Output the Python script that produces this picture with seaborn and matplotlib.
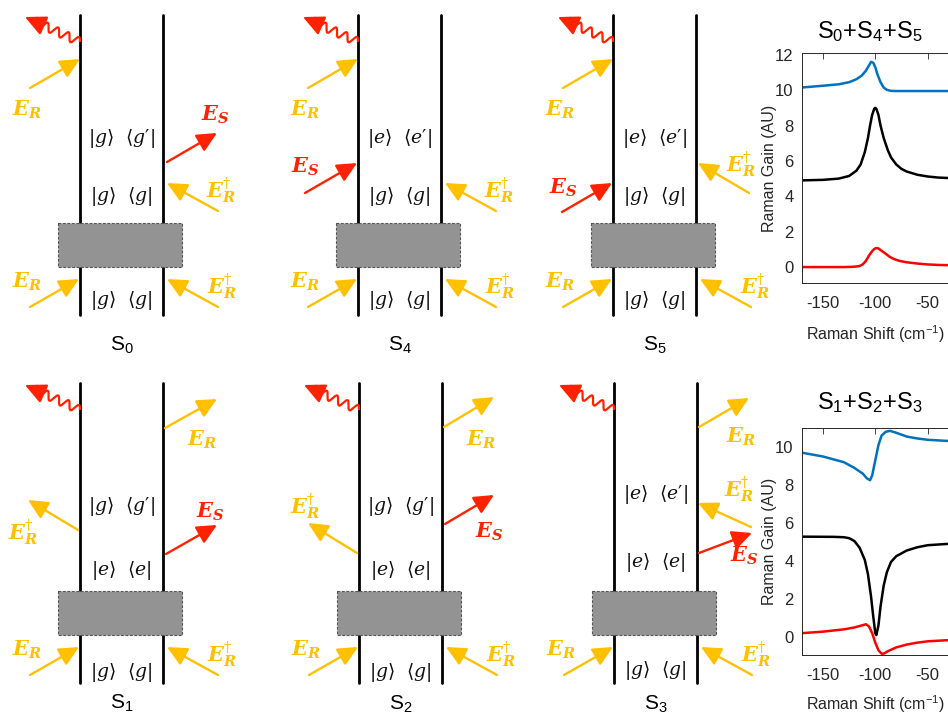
import numpy as np
import pandas as pd
import matplotlib
matplotlib.use('Agg')
import matplotlib.pyplot as plt
import seaborn as sns
from matplotlib.patches import Rectangle

# ---------------- data ----------------
# Top chart: S0+S4+S5
top_blue_x = [-170, -150, -135, -125, -118, -113, -109, -106, -104, -102, -100, -98, -95, -92, -89, -85, -80, -70, -50, -25]
top_blue_y = [10.15, 10.25, 10.33, 10.45, 10.62, 10.82, 11.1, 11.4, 11.6, 11.55, 11.3, 10.9, 10.45, 10.15, 10.02, 9.96, 9.95, 9.95, 9.95, 9.95]
top_black_x = [-170, -150, -135, -125, -118, -114, -110, -107, -105, -103, -101, -100, -99, -97, -95, -92, -88, -85, -80, -75, -70, -60, -50, -40, -25]
top_black_y = [4.9, 4.93, 5.0, 5.15, 5.45, 5.8, 6.5, 7.3, 8.0, 8.6, 8.95, 9.0, 8.95, 8.6, 8.0, 7.3, 6.6, 6.2, 5.8, 5.55, 5.4, 5.22, 5.12, 5.06, 5.02]
top_red_x = [-170, -150, -130, -120, -115, -112, -109, -106, -103, -101, -99, -97, -94, -90, -86, -82, -77, -70, -60, -50, -40, -25]
top_red_y = [0.0, 0.0, 0.0, 0.02, 0.06, 0.15, 0.35, 0.65, 0.9, 1.02, 1.08, 1.05, 0.92, 0.75, 0.57, 0.45, 0.35, 0.27, 0.2, 0.15, 0.12, 0.1]

# Bottom chart: S1+S2+S3
bot_blue_x = [-170, -150, -130, -120, -112, -108, -105, -103, -100, -97, -94, -90, -86, -80, -70, -60, -50, -25]
bot_blue_y = [9.7, 9.5, 9.2, 8.9, 8.6, 8.35, 8.25, 8.5, 9.3, 10.1, 10.6, 10.8, 10.85, 10.75, 10.55, 10.45, 10.38, 10.3]
bot_black_x = [-170, -140, -130, -125, -120, -115, -110, -107, -104, -102, -100, -99, -97, -95, -92, -89, -85, -80, -70, -60, -50, -25]
bot_black_y = [5.28, 5.27, 5.25, 5.2, 5.05, 4.7, 4.05, 3.3, 2.1, 1.1, 0.2, 0.1, 0.6, 1.6, 2.7, 3.4, 3.95, 4.25, 4.55, 4.72, 4.83, 4.92]
bot_red_x = [-170, -150, -130, -120, -112, -109, -106, -103, -100, -97, -94, -92, -88, -80, -70, -60, -50, -25]
bot_red_y = [0.2, 0.28, 0.4, 0.5, 0.62, 0.67, 0.55, 0.2, -0.3, -0.7, -0.88, -0.88, -0.75, -0.55, -0.4, -0.3, -0.23, -0.15]

x_ticks = [-150, -100, -50]
top_y_ticks = [0, 2, 4, 6, 8, 10, 12]
bot_y_ticks = [0, 2, 4, 6, 8, 10]
top_title = r'S$_\mathsf{0}$+S$_\mathsf{4}$+S$_\mathsf{5}$'
bot_title = r'S$_\mathsf{1}$+S$_\mathsf{2}$+S$_\mathsf{3}$'

# ---------------- style ----------------
sns.set_theme(style='white')
plt.rcParams['font.family'] = ['Liberation Sans', 'DejaVu Sans']
plt.rcParams['mathtext.fontset'] = 'custom'
plt.rcParams['mathtext.rm'] = 'DejaVu Serif'
plt.rcParams['mathtext.it'] = 'DejaVu Serif:italic'
plt.rcParams['mathtext.bf'] = 'DejaVu Serif:italic:bold'
plt.rcParams['mathtext.sf'] = 'Liberation Sans'
plt.rcParams['axes.unicode_minus'] = False

W, H = 948, 717
fig = plt.figure(figsize=(W / 100, H / 100), dpi=100)

YEL = '#FFC000'
RED = '#FF2200'
BLUE = '#0072BD'

# ---------------- diagram overlay (pixel coordinates) ----------------
ov = fig.add_axes([0, 0, 1, 1])
ov.set_xlim(0, W)
ov.set_ylim(H, 0)
ov.axis('off')


def arrow(p0, p1, color, lw=1.7, ms=16):
    ov.annotate('', xy=p1, xytext=p0,
                arrowprops=dict(arrowstyle='-|>,head_length=0.75,head_width=0.36',
                                color=color, lw=lw, shrinkA=0, shrinkB=0,
                                mutation_scale=ms))


def wavy(L, T):
    p0 = np.array([L, T + 27.0])
    p1 = np.array([L - 55.0, T + 2.0])
    d = p1 - p0
    length = np.hypot(*d)
    u = d / length
    n = np.array([-u[1], u[0]])
    s = np.linspace(0, length - 10, 240)
    w = 4.2 * np.sin(2 * np.pi * s / 11.5)
    pts = p0[None, :] + s[:, None] * u[None, :] + w[:, None] * n[None, :]
    ov.plot(pts[:, 0], pts[:, 1], color=RED, lw=1.6, solid_capstyle='butt')
    arrow(p0 + (length - 12) * u, p1, RED, lw=1.6, ms=17)


def lab(x, y, kind, color):
    if kind == 'ER':
        s = r'$\mathbf{E}_{\mathbf{R}}$'
    elif kind == 'ERd':
        s = r'$\mathbf{E}_{\mathbf{R}}^{\dagger}$'
    else:
        s = r'$\mathbf{E}_{\mathbf{S}}$'
    ov.text(x, y, s, color=color, fontsize=15, ha='center', va='center')


def ket(x, y, a, b, prime):
    p = r"{\prime}" if prime else ''
    s = r'$|%s\rangle\ \ \langle %s%s|$' % (a, b, p)
    ov.text(x, y, s, fontsize=13.5, ha='center', va='center', color='#111111')


def panel(L, T, name, kets, items, name_dy):
    R = L + 83
    C = (L + R) / 2
    ov.plot([L, L], [T, T + 300], color='black', lw=2.0, zorder=2)
    ov.plot([R, R], [T, T + 300], color='black', lw=2.0, zorder=2)
    ov.add_patch(Rectangle((L - 22, T + 208), R + 19 - (L - 22), 44,
                           facecolor='#939393', edgecolor='#555555',
                           lw=0.8, ls=(0, (2.5, 1.5)), zorder=3))
    wavy(L, T)
    # common bottom arrows
    arrow((L - 50, T + 292), (L - 1, T + 264), YEL)
    lab(L - 53, T + 267, 'ER', YEL)
    arrow((R + 55, T + 292), (R + 4, T + 264), YEL)
    lab(R + 59, T + 272, 'ERd', YEL)
    for (y, a, b, pr) in kets:
        ket(C, T + y, a, b, pr)
    for (side0, dx0, dy0, side1, dx1, dy1, lside, ldx, ldy, kind, color) in items:
        b0 = L if side0 == 'L' else R
        b1 = L if side1 == 'L' else R
        bl = L if lside == 'L' else R
        arrow((b0 + dx0, T + dy0), (b1 + dx1, T + dy1), color)
        lab(bl + ldx, T + ldy, kind, color)
    ov.text(C, T + name_dy, name, fontsize=15, ha='center', va='center', color='black')


top_kets_g = [(123, 'g', 'g', True), (182, 'g', 'g', False), (285, 'g', 'g', False)]
top_kets_e = [(123, 'e', 'e', True), (182, 'g', 'g', False), (285, 'g', 'g', False)]
ER_top = ('L', -50, 73, 'L', 0, 44, 'L', -53, 95, 'ER', YEL)

panel(80, 15, r'S$_\mathsf{0}$', top_kets_g, [
    ER_top,
    ('R', 4, 147, 'R', 54, 118, 'R', 52, 100, 'ES', RED),
    ('R', 55, 196, 'R', 4, 168, 'R', 58, 176, 'ERd', YEL),
], 330)
panel(358, 15, r'S$_\mathsf{4}$', top_kets_e, [
    ER_top,
    ('L', -53, 178, 'L', -1, 148, 'L', -53, 152, 'ES', RED),
    ('R', 55, 196, 'R', 4, 168, 'R', 58, 176, 'ERd', YEL),
], 330)
panel(613, 15, r'S$_\mathsf{5}$', top_kets_e, [
    ER_top,
    ('L', -51, 197, 'L', -1, 168, 'L', -50, 173, 'ES', RED),
    ('R', 53, 178, 'R', 2, 148, 'R', 45, 150, 'ERd', YEL),
], 330)

bot_kets_g = [(124, 'g', 'g', True), (188, 'e', 'e', False), (289, 'g', 'g', False)]
bot_kets_e = [(112, 'e', 'e', True), (180, 'e', 'e', False), (287, 'g', 'g', False)]
panel(80, 383, r'S$_\mathsf{1}$', bot_kets_g, [
    ('R', 2, 45, 'R', 54, 16, 'R', 39, 57, 'ER', YEL),
    ('L', -2, 147, 'L', -52, 117, 'L', -57, 150, 'ERd', YEL),
    ('R', 3, 171, 'R', 54, 142, 'R', 47, 129, 'ES', RED),
], 320)
panel(359, 383, r'S$_\mathsf{2}$', bot_kets_g, [
    ('R', 2, 44, 'R', 52, 14, 'R', 39, 57, 'ER', YEL),
    ('L', -2, 170, 'L', -51, 140, 'L', -54, 124, 'ERd', YEL),
    ('R', 3, 141, 'R', 52, 112, 'R', 47, 149, 'ES', RED),
], 321)
panel(614, 383, r'S$_\mathsf{3}$', bot_kets_e, [
    ('R', 2, 44, 'R', 52, 15, 'R', 44, 54, 'ER', YEL),
    ('R', 54, 144, 'R', 1, 120, 'R', 42, 107, 'ERd', YEL),
    ('R', 2, 170, 'R', 55, 150, 'R', 47, 173, 'ES', RED),
], 321)

# ---------------- spectra charts ----------------
def chart(top_px, bot_px, curves, ylim, yticks, title, title_y, xlab_off):
    left_px, right_px = 802, 980
    hpx = bot_px - top_px
    rect = [left_px / W, 1 - bot_px / H, (right_px - left_px) / W, hpx / H]
    ax = fig.add_axes(rect)
    for x, y, c in curves:
        df = pd.DataFrame({'shift': x, 'gain': y})
        sns.lineplot(data=df, x='shift', y='gain', color=c, lw=1.8, ax=ax, sort=False)
    ax.set_xlim(-170, 0)
    ax.set_ylim(*ylim)
    ax.set_xticks(x_ticks)
    ax.set_yticks(yticks)
    ax.tick_params(direction='in', top=True, right=True, length=4, width=0.6,
                   colors='#262626', labelsize=12)
    ax.tick_params(axis='x', pad=9)
    ax.tick_params(axis='y', pad=6)
    for s in ax.spines.values():
        s.set_visible(True)
        s.set_color('#262626')
        s.set_linewidth(0.7)
    ax.set_xlabel(r'Raman Shift (cm$^{\mathsf{-1}}$)', fontsize=11.5, color='#262626')
    ax.set_ylabel('Raman Gain (AU)', fontsize=11.5, color='#262626')
    ax.xaxis.set_label_coords((875 - left_px) / (right_px - left_px), -xlab_off / hpx)
    ax.yaxis.set_label_coords((777 - left_px) / (right_px - left_px), 0.5)
    fig.text(870 / W, 1 - title_y / H, title, fontsize=17, ha='center', va='center', color='black')
    return ax


chart(53, 283, [(top_blue_x, top_blue_y, BLUE), (top_black_x, top_black_y, 'black'),
                (top_red_x, top_red_y, 'red')],
      (-0.9, 12.1), top_y_ticks, top_title, 32, 40)
chart(428, 655, [(bot_blue_x, bot_blue_y, BLUE), (bot_black_x, bot_black_y, 'black'),
                 (bot_red_x, bot_red_y, 'red')],
      (-0.95, 11.0), bot_y_ticks, bot_title, 403, 38)

fig.savefig('out.png', dpi=100)
